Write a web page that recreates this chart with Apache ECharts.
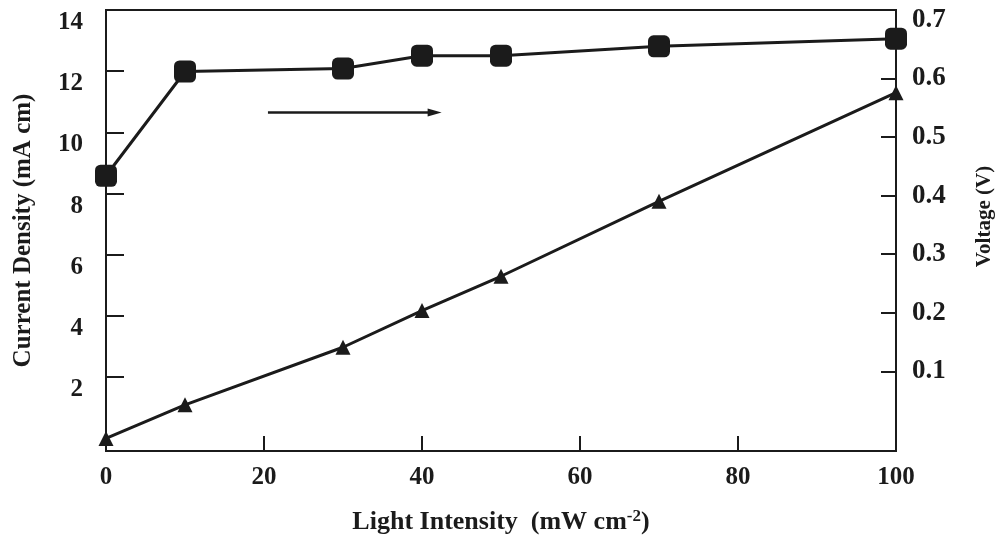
<!DOCTYPE html>
<html>
<head>
    <meta charset="utf-8">
    <title>Light intensity</title>
    <script src="https://cdn.jsdelivr.net/npm/echarts@6/dist/echarts.min.js"></script>
</head>
<body style="margin:0;background:#fff;">
<div id="main" style="width: 997px;height:540px;"></div>
<script type="text/javascript">
    // values
    var intensity = [0, 10, 30, 40, 50, 70, 100];
    var voltage = [0.434, 0.612, 0.617, 0.639, 0.639, 0.655, 0.668];   // squares, right axis
    var current = [0, 1.1, 2.98, 4.18, 5.3, 7.75, 11.3];                // triangles, left axis

    var xLabels = [0, 20, 40, 60, 80, 100];
    var xTicks = [20, 40, 60, 80];
    var leftLabels = [2, 4, 6, 8, 10, 12, 14];
    var leftTicks = [2, 4, 6, 8, 10, 12];
    var rightLabels = [0.1, 0.2, 0.3, 0.4, 0.5, 0.6, 0.7];
    var rightTicks = [0.1, 0.2, 0.3, 0.4, 0.5, 0.6];

    var ink = '#1b1b1b';
    var font = 'Liberation Serif';

    var myChart = echarts.init(document.getElementById('main'));

    function pairs(xs, ys) {
        return xs.map(function (x, i) { return [x, ys[i]]; });
    }

    var option = {
        backgroundColor: '#fff',
        animation: false,
        grid: {
            left: 106, right: 101, top: 10, bottom: 89,
            outerBoundsMode: 'none',
            show: true, borderColor: ink, borderWidth: 2
        },
        xAxis: {
            type: 'value', min: 0, max: 100,
            name: 'Light Intensity  (mW cm{sup|-2})',
            nameLocation: 'middle', nameGap: 57,
            nameTextStyle: {
                color: ink, fontFamily: font, fontWeight: 'bold', fontSize: 26,
                rich: { sup: { fontFamily: font, fontWeight: 'bold', fontSize: 17, color: ink, verticalAlign: 'bottom', padding: [0, 0, 12, 0] } }
            },
            axisLine: { onZero: false, lineStyle: { color: ink, width: 2 } },
            axisTick: { inside: true, length: 15, customValues: xTicks, lineStyle: { color: ink, width: 2 } },
            axisLabel: { customValues: xLabels, margin: 14, color: ink, fontFamily: font, fontWeight: 'bold', fontSize: 25 },
            splitLine: { show: false }
        },
        yAxis: [{
            type: 'value', min: -0.41, max: 14, position: 'left',
            name: 'Current Density (mA cm)',
            nameLocation: 'middle', nameGap: 70, nameRotate: 90,
            nameTextStyle: { color: ink, fontFamily: font, fontWeight: 'bold', fontSize: 25 },
            axisLine: { show: true, onZero: false, lineStyle: { color: ink, width: 2 } },
            axisTick: { inside: true, length: 18, customValues: leftTicks, lineStyle: { color: ink, width: 2 } },
            axisLabel: { customValues: leftLabels, margin: 23, verticalAlign: 'top', color: ink, fontFamily: font, fontWeight: 'bold', fontSize: 25 },
            splitLine: { show: false }
        }, {
            type: 'value', min: -0.036, max: 0.717, position: 'right',
            name: 'Voltage (V)',
            nameLocation: 'middle', nameGap: 78, nameRotate: 90,
            nameTextStyle: { color: ink, fontFamily: font, fontWeight: 'bold', fontSize: 21, padding: [0, 0, 0, 28] },
            axisLine: { show: true, onZero: false, lineStyle: { color: ink, width: 2 } },
            axisTick: { inside: true, length: 15, customValues: rightTicks, lineStyle: { color: ink, width: 2 } },
            axisLabel: { customValues: rightLabels, margin: 16, color: ink, fontFamily: font, fontWeight: 'bold', fontSize: 27 },
            splitLine: { show: false }
        }],
        series: [{
            type: 'line',
            yAxisIndex: 1,
            data: pairs(intensity, voltage),
            symbol: 'roundRect',
            symbolSize: 22,
            lineStyle: { color: ink, width: 3 },
            itemStyle: { color: ink },
            markLine: {
                silent: true,
                symbol: ['none', 'triangle'],
                symbolSize: [8, 14],
                symbolRotate: [0, -90],
                label: { show: false },
                lineStyle: { color: ink, width: 2.5, type: 'solid' },
                data: [[{ coord: [20.5, 0.542] }, { coord: [41.6, 0.542] }]]
            }
        }, {
            type: 'line',
            yAxisIndex: 0,
            data: pairs(intensity, current),
            symbol: 'triangle',
            symbolSize: 15,
            lineStyle: { color: ink, width: 3 },
            itemStyle: { color: ink }
        }]
    };

    myChart.setOption(option);
</script>
</body>
</html>
